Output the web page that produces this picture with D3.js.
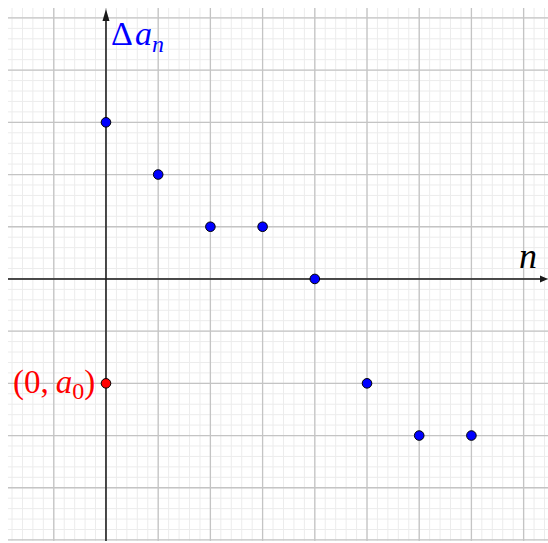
<!DOCTYPE html>
<html>
<head>
<meta charset="utf-8">
<script src="https://cdn.jsdelivr.net/npm/d3@7"></script>
<style>
  html, body { margin: 0; padding: 0; background: #fff; }
  svg { display: block; }
</style>
</head>
<body>
<svg id="chart" width="548" height="543"></svg>
<script>
// Index n and the first differences Δa_n plotted against it
const nValues = [0, 1, 2, 3, 4, 5, 6, 7];
const deltaValues = [3, 2, 1, 1, 0, -2, -3, -3];
// Starting point (0, a0)
const startPoint = { n: 0, value: -2 };

const width = 548, height = 543;
const svg = d3.select("#chart");
const serif = "'Liberation Serif', 'Times New Roman', serif";

const x = d3.scaleLinear().domain([-1.877, 8.467]).range([8, 548]);
const y = d3.scaleLinear().domain([5.19, -5.02]).range([8, 541]);

const [x0, x1] = x.domain();
const [y1, y0] = y.domain();

// Grid: fine lines every 0.2, heavier lines every unit
const minorX = d3.range(Math.ceil(x0 * 5), Math.floor(x1 * 5) + 1).map(k => k / 5);
const minorY = d3.range(Math.ceil(y0 * 5), Math.floor(y1 * 5) + 1).map(k => k / 5);
const majorX = d3.range(Math.ceil(x0), Math.floor(x1) + 1);
const majorY = d3.range(Math.ceil(y0), Math.floor(y1) + 1);

const grid = svg.append("g");
grid.selectAll("line.mx").data(minorX).join("line")
  .attr("x1", d => x(d)).attr("x2", d => x(d))
  .attr("y1", y(y1)).attr("y2", y(y0))
  .attr("stroke", "#ececec").attr("stroke-width", 1);
grid.selectAll("line.my").data(minorY).join("line")
  .attr("y1", d => y(d)).attr("y2", d => y(d))
  .attr("x1", x(x0)).attr("x2", x(x1))
  .attr("stroke", "#ececec").attr("stroke-width", 1);
grid.selectAll("line.Mx").data(majorX).join("line")
  .attr("x1", d => x(d)).attr("x2", d => x(d))
  .attr("y1", y(y1)).attr("y2", y(y0))
  .attr("stroke", "#c4c4c4").attr("stroke-width", 1.3);
grid.selectAll("line.My").data(majorY).join("line")
  .attr("y1", d => y(d)).attr("y2", d => y(d))
  .attr("x1", x(x0)).attr("x2", x(x1))
  .attr("stroke", "#c4c4c4").attr("stroke-width", 1.3);

// Axes with arrowheads
const axes = svg.append("g").attr("stroke", "#1a1a1a").attr("fill", "#1a1a1a");
axes.append("line")
  .attr("x1", x(x0)).attr("x2", 543)
  .attr("y1", y(0)).attr("y2", y(0)).attr("stroke-width", 1.5);
axes.append("path")
  .attr("d", `M548,${y(0)} L540,${y(0) - 3.5} L540,${y(0) + 3.5} Z`)
  .attr("stroke", "none");
axes.append("line")
  .attr("x1", x(0)).attr("x2", x(0))
  .attr("y1", y(y0)).attr("y2", 18).attr("stroke-width", 1.5);
axes.append("path")
  .attr("d", `M${x(0)},9 L${x(0) - 3.5},21 L${x(0) + 3.5},21 Z`)
  .attr("stroke", "none");

// Points
svg.append("g").selectAll("circle").data(nValues).join("circle")
  .attr("cx", d => x(d))
  .attr("cy", (d, i) => y(deltaValues[i]))
  .attr("r", 4.8)
  .attr("fill", "#0000ff").attr("stroke", "#000").attr("stroke-width", 1);

svg.append("circle")
  .attr("cx", x(startPoint.n)).attr("cy", y(startPoint.value))
  .attr("r", 4.8)
  .attr("fill", "#ff0000").attr("stroke", "#000").attr("stroke-width", 1);

// Labels
const yLab = svg.append("text").attr("font-family", serif)
  .attr("x", 111).attr("y", 45)
  .attr("fill", "#0000ff").attr("font-size", 34);
yLab.append("tspan").text("Δ");
yLab.append("tspan").attr("font-style", "italic").attr("dx", 2).text("a");
yLab.append("tspan").attr("font-style", "italic").attr("font-size", 24).attr("dy", 7).text("n");

svg.append("text").attr("font-family", serif)
  .attr("x", 519).attr("y", 268)
  .attr("fill", "#000").attr("font-size", 36).attr("font-style", "italic")
  .text("n");

const pLab = svg.append("text").attr("font-family", serif)
  .attr("x", 13).attr("y", 393)
  .attr("fill", "#ff0000").attr("font-size", 33);
pLab.append("tspan").text("(0,");
pLab.append("tspan").attr("font-style", "italic").attr("dx", 7).text("a");
pLab.append("tspan").attr("font-size", 24).attr("dy", 6).text("0");
pLab.append("tspan").attr("dy", -6).text(")");
</script>
</body>
</html>
